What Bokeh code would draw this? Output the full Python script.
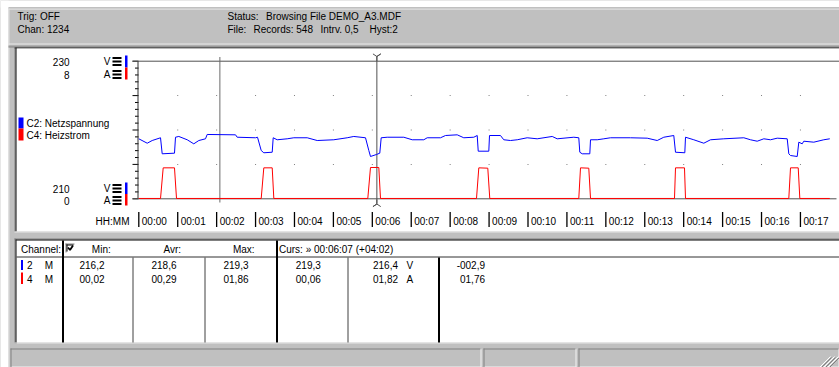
import math
from bokeh.plotting import figure
from bokeh.models import Range1d
from bokeh.core.properties import value
from bokeh.embed import file_html
from bokeh.resources import INLINE

# ---------------- data ----------------
# C2: Netzspannung  (minutes, volts)
VOLT_T = [0.000, 0.216, 0.344, 0.558, 0.601, 0.917, 0.943, 1.028, 1.244, 1.413,
          1.542, 1.714, 1.757, 2.485, 2.528, 2.998, 3.050, 3.145, 3.212, 3.428,
          3.453, 3.556, 3.813, 3.983, 4.327, 4.584, 5.010, 5.355, 5.524, 5.825,
          5.910, 5.953, 6.107, 6.192, 6.228, 6.382, 6.809, 7.025, 7.323, 7.410,
          7.752, 7.880, 8.181, 8.350, 8.607, 8.695, 8.721, 8.993, 9.011, 9.293,
          9.378, 9.550, 9.723, 9.979, 10.236, 10.622, 10.750, 11.177, 11.305, 11.331,
          11.393, 11.588, 11.606, 11.778, 11.948, 12.120, 12.634, 13.063, 13.320, 13.489,
          13.746, 13.790, 14.029, 14.047, 14.260, 14.517, 14.689, 15.031, 15.545, 15.717,
          15.889, 16.059, 16.231, 16.403, 16.660, 16.701, 16.745, 16.917, 16.958, 17.045,
          17.086, 17.343, 17.600, 17.754]
VOLT_V = [218.72, 218.08, 218.47, 218.87, 216.54, 216.63, 218.95, 219.06, 218.58, 217.99,
          218.47, 218.72, 219.35, 219.30, 218.95, 218.87, 218.95, 217.02, 216.69, 216.77,
          218.87, 218.58, 218.72, 218.87, 218.87, 218.47, 218.58, 218.87, 219.06, 218.87,
          217.02, 216.15, 216.44, 216.63, 218.87, 218.95, 218.95, 218.58, 218.58, 218.87,
          218.87, 219.20, 219.30, 218.87, 218.95, 219.20, 216.92, 216.92, 219.20, 219.20,
          218.58, 218.47, 218.58, 218.87, 218.72, 219.06, 218.72, 218.95, 218.87, 216.77,
          216.54, 216.54, 218.58, 218.58, 218.72, 218.87, 218.87, 218.81, 218.47, 218.95,
          219.20, 216.77, 216.69, 218.95, 218.58, 218.08, 218.58, 218.72, 218.87, 218.58,
          218.37, 218.72, 218.58, 218.81, 218.72, 216.54, 216.29, 216.15, 218.23, 217.99,
          218.37, 218.23, 218.58, 218.72]

# C4: Heizstrom  (minutes, amperes)
CURR_T = [0.000, 0.558, 0.627, 0.917, 0.969,
          3.145, 3.212, 3.428, 3.469,
          5.884, 5.953, 6.167, 6.210,
          8.677, 8.736, 8.967, 9.018,
          11.305, 11.349, 11.562, 11.606,
          13.764, 13.790, 14.021, 14.047,
          16.701, 16.745, 16.943, 16.984, 17.754]
CURR_A = [0.02, 0.02, 1.80, 1.80, 0.02,
          0.02, 1.80, 1.80, 0.02,
          0.02, 1.82, 1.82, 0.02,
          0.02, 1.80, 1.78, 0.02,
          0.02, 1.80, 1.78, 0.02,
          0.02, 1.80, 1.80, 0.02,
          0.02, 1.80, 1.80, 0.02, 0.02]

TIME_TICKS = [0, 1, 2, 3, 4, 5, 6, 7, 8, 9, 10, 11, 12, 13, 14, 15, 16, 17]
TIME_LABELS = ["00:00", "00:01", "00:02", "00:03", "00:04", "00:05", "00:06", "00:07", "00:08",
               "00:09", "00:10", "00:11", "00:12", "00:13", "00:14", "00:15", "00:16", "00:17"]
V_MIN, V_MAX, V_MAJOR = 210, 230, 5
A_MIN, A_MAX = 0, 8
REF_T = 2 + 5 / 60        # 00:02:05
CURSOR_T = 6 + 7 / 60     # 00:06:07

SERIES_NAMES = ["C2: Netzspannung", "C4: Heizstrom"]
SERIES_COLORS = ["#0000FF", "#FF0000"]
CHANNELS = ["2", "4"]
MODES = ["M", "M"]
STAT_MIN = ["216,2", "00,02"]
STAT_AVR = ["218,6", "00,29"]
STAT_MAX = ["219,3", "01,86"]
CURS_REF = ["219,3", "00,06"]
CURS_VAL = ["216,4", "01,82"]
UNITS = ["V", "A"]
CURS_DIFF = ["-002,9", "01,76"]

# ---------------- layout (pixel coordinates of the picture) ----------------
W, H = 839, 367
PX0, PY0 = 0, 0
PX1, PY1 = PX0 + W, PY0 + H
T0_PX = 138.3           # x of 00:00
PX_PER_MIN = 38.92
Y_TOP = 60.7            # y of V_MAX / A_MAX
Y_BOT = 198.3           # y of V_MIN / A_MIN

FONT = value("Liberation Sans")
GRAY = "#C0C0C0"

t_range = Range1d((PX0 - T0_PX) / PX_PER_MIN, (PX1 - T0_PX) / PX_PER_MIN)
vpp = (Y_BOT - Y_TOP) / (V_MAX - V_MIN)
v_range = Range1d(V_MIN - (PY1 - Y_BOT) / vpp, V_MAX + (Y_TOP - PY0) / vpp)
app = (Y_BOT - Y_TOP) / (A_MAX - A_MIN)
a_range = Range1d(A_MIN - (PY1 - Y_BOT) / app, A_MAX + (Y_TOP - PY0) / app)

p = figure(width=W, height=H, output_backend="svg", toolbar_location=None,
           x_range=Range1d(PX0, PX1), y_range=Range1d(PY1, PY0),
           x_axis_location=None, y_axis_location=None, min_border=0,
           background_fill_color=GRAY, border_fill_color=GRAY)
p.extra_x_ranges = {"t": t_range}
p.extra_y_ranges = {"V": v_range, "A": a_range}
p.grid.visible = False
p.outline_line_color = None
p.title.visible = False


def box(l, r, t, b, color):
    p.quad(left=[l], right=[r], top=[t], bottom=[b], fill_color=color, line_color=None)


def hl(y, x0, x1, color, w=1):
    p.segment(x0=[x0], y0=[y], x1=[x1], y1=[y], line_color=color, line_width=w)


def vl(x, y0, y1, color, w=1):
    p.segment(x0=[x], y0=[y0], x1=[x], y1=[y1], line_color=color, line_width=w)


def txt(x, y, s, align="left", size="10px"):
    p.text(x=x, y=y, text=s, text_align=align, text_baseline="middle",
           text_font=FONT, text_font_size=size, text_color="black")


# white page margin of the screenshot
box(0, PX1, 0, 7, "white")
box(0, 8, 0, PY1, "white")

# ---------------- top status bar ----------------
hl(7.5, 8, PX1, "#A0A0A0")
hl(8.5, 8, PX1, "#F0F0F0")
vl(8.5, 8, PY1, "#E0E0E0")
hl(43.5, 8, PX1, "#E8E8E8")
hl(45.5, 8, PX1, "#A0A0A0")
hl(46.5, 8, PX1, "#808080")
hl(47.5, 14, PX1, "#202020")
txt([17, 17], [15.5, 29], ["Trig: OFF", "Chan: 1234"])
txt([227, 265.5, 227, 253, 320, 369], [15.5, 15.5, 29, 29, 29, 29],
    ["Status:", "Browsing File DEMO_A3.MDF", "File:", "Records: 548", "Intrv. 0,5", "Hyst:2"])

# ---------------- chart panel ----------------
box(16, PX1, 48, 231, "white")
vl(14.5, 47, 231, "#808080")
vl(15.5, 47, 231, "#202020")
hl(231.5, 14, PX1, "#E8E8E8")

# legend
for i in range(2):
    box(18, 23, [117, 128][i], [128, 140][i], SERIES_COLORS[i])
txt([26, 26], [123, 135], SERIES_NAMES)

# scale labels
txt([69, 69, 69, 69], [61, 74, 188, 200],
    [str(V_MAX), str(A_MAX), str(V_MIN), str(A_MIN)], align="right")
txt([110, 110, 110, 110], [61, 74, 188, 200], ["V", "A", "V", "A"], align="right")
for yc in [61, 74, 188, 200]:
    for dy in (-3.5, 0, 3.5):
        box(112, 121, yc + dy - 1, yc + dy + 1, "black")
for (y0, y1, c) in [(55, 67, SERIES_COLORS[0]), (67, 79, SERIES_COLORS[1]),
                    (182, 193.5, SERIES_COLORS[0]), (193.5, 205, SERIES_COLORS[1])]:
    box(124.5, 127, y0, y1, c)

# y axis with ticks (voltage scale)
major_v = list(range(V_MIN, V_MAX + 1, V_MAJOR))
minor_v = [v for v in range(V_MIN, V_MAX + 1) if v not in major_v]
p.segment(x0=[132] * len(major_v), x1=[138] * len(major_v), y0=major_v, y1=major_v,
          y_range_name="V", line_color="black")
p.segment(x0=[134.5] * len(minor_v), x1=[138] * len(minor_v), y0=minor_v, y1=minor_v,
          y_range_name="V", line_color="black")
p.segment(x0=[137.5], x1=[137.5], y0=[V_MIN], y1=[V_MAX], y_range_name="V", line_color="#303030")
p.segment(x0=[132], x1=[PX1], y0=[V_MAX], y1=[V_MAX], y_range_name="V", line_color="#505050")
p.segment(x0=[132], x1=[836], y0=[V_MIN], y1=[V_MIN], y_range_name="V", line_color="#505050")

# dotted grid
gx, gy = [], []
for m in TIME_TICKS[1:]:
    for v in major_v[1:-1]:
        gx.append(m)
        gy.append(v)
p.rect(x=gx, y=gy, width=1, height=1, width_units="screen", height_units="screen",
       x_range_name="t", y_range_name="V", fill_color="#808080", line_color=None)

# reference line and cursor
p.segment(x0=[REF_T], x1=[REF_T], y0=[56.5], y1=[202], x_range_name="t",
          line_color="#6A6A6A")
p.segment(x0=[CURSOR_T], x1=[CURSOR_T], y0=[56], y1=[203], x_range_name="t",
          line_color="#505050")
p.scatter(x=[CURSOR_T], y=[56], marker="y", size=9, x_range_name="t",
          line_color="#505050", fill_color=None)
p.scatter(x=[CURSOR_T], y=[203.5], marker="y", size=9, angle=math.pi, x_range_name="t",
          line_color="#505050", fill_color=None)

# data series
p.line(CURR_T, CURR_A, x_range_name="t", y_range_name="A", line_color=SERIES_COLORS[1], line_width=1)
p.line(VOLT_T, VOLT_V, x_range_name="t", y_range_name="V", line_color=SERIES_COLORS[0], line_width=1)

# time axis
p.segment(x0=TIME_TICKS, x1=TIME_TICKS, y0=[211.5] * len(TIME_TICKS), y1=[226.5] * len(TIME_TICKS),
          x_range_name="t", line_color="black", line_width=1.3)
p.text(x=TIME_TICKS, y=[220.5] * len(TIME_TICKS), text=TIME_LABELS, x_offset=3,
       x_range_name="t", text_align="left", text_baseline="middle",
       text_font=FONT, text_font_size="10px", text_color="black")
txt([129], [220.5], ["HH:MM"], align="right")

# ---------------- table panel ----------------
box(16, PX1, 240, 342, "white")
hl(238.5, 14, PX1, "#808080")
hl(239.5, 15, PX1, "#202020")
vl(14.5, 238, 343, "#808080")
vl(15.5, 239, 343, "#202020")
hl(342.5, 14, PX1, "#E8E8E8")
hl(256.5, 16, PX1, "#303030")
for x in (62.5, 276.5):
    vl(x, 240, 342, "black", 2)
vl(438.5, 257, 342, "black", 2)
for x in (132.5, 204.5, 347.5):
    vl(x, 257, 342, "#404040", 1)

# header
txt([20.5], [248.5], ["Channel:"])
box(65, 74, 243, 252, "white")
hl(243.5, 65, 74, "#808080")
vl(65.5, 243, 252, "#808080")
hl(244.5, 66, 73, "black")
vl(66.5, 244, 251, "black")
p.line([67.5, 69.5, 72.5], [247, 249.5, 245], line_color="black", line_width=1.8)
txt([100.8, 171.7, 243.3], [248.5] * 3, ["Min:", "Avr:", "Max:"], align="center")
txt([278.5], [248.5], ["Curs: \u00bb 00:06:07 (+04:02)"])

# rows
ROW_Y = [264.5, 278.5]
box(20.5, 22.5, 259.5, 269.5, SERIES_COLORS[0])
box(20.5, 22.5, 272, 283.5, SERIES_COLORS[1])
txt([26.5] * 2, ROW_Y, CHANNELS)
txt([48.5] * 2, ROW_Y, MODES, align="center")
txt([91.5] * 2, ROW_Y, STAT_MIN, align="center")
txt([163.5] * 2, ROW_Y, STAT_AVR, align="center")
txt([235.5] * 2, ROW_Y, STAT_MAX, align="center")
txt([307.8] * 2, ROW_Y, CURS_REF, align="center")
txt([397.5] * 2, ROW_Y, CURS_VAL, align="right")
txt([406] * 2, ROW_Y, UNITS)
txt([484.5] * 2, ROW_Y, CURS_DIFF, align="right")

# ---------------- bottom status bar ----------------
for (x0, x1) in [(10, 481), (483, 576), (578, PX1)]:
    hl(348.5, x0, x1, "#808080")
    hl(366.5, x0, x1, "#F4F4F4")
    vl(x0 + 0.5, 348, PY1, "#808080")
    vl(x1 - 0.5, 348, PY1, "#F4F4F4")
# size grip
for k in (0, 4, 8):
    p.segment(x0=[838 - k], y0=[356], x1=[827 - k], y1=[367], line_color="white")
    p.segment(x0=[839 - k], y0=[357], x1=[828 - k], y1=[368], line_color="#808080")

open("out.html", "w").write(file_html(p, INLINE))
